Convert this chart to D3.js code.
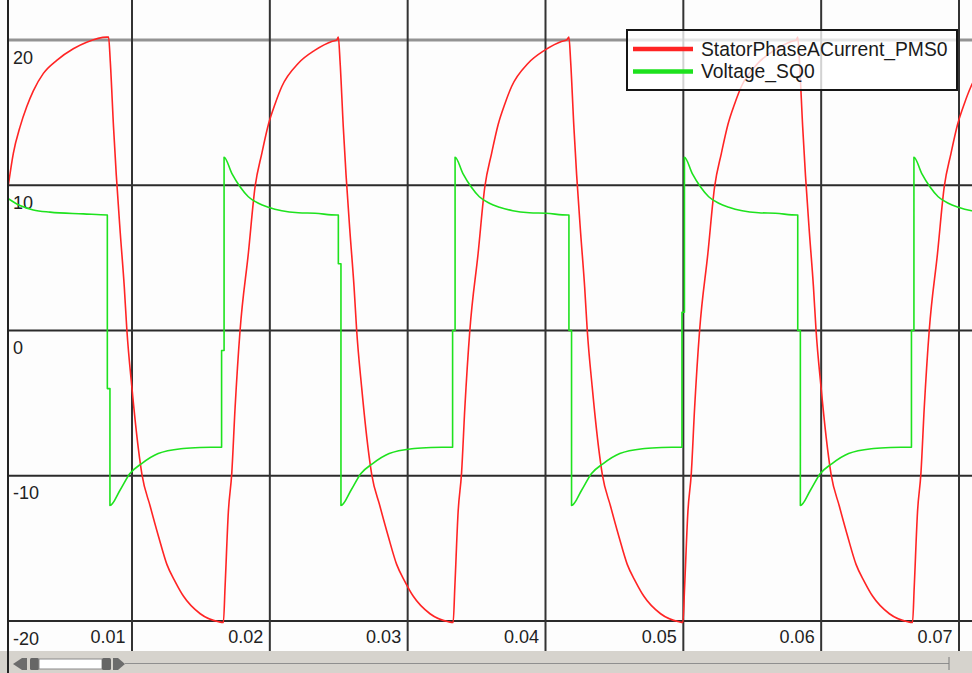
<!DOCTYPE html>
<html lang="en">
<head>
<meta charset="UTF-8">
<title>StatorPhaseACurrent_PMS0 / Voltage_SQ0</title>
<script src="https://d3js.org/d3.v7.min.js"></script>
<style>
  body { margin: 0; background: #fff; }
  svg { display: block; font-family: "Liberation Sans", Arial, sans-serif; }
  .tick-label { font-size: 18px; fill: #222; }
  .legend-label { font-size: 19.3px; fill: #1a1a1a; }
</style>
</head>
<body>
<script>
  // time in ms
  const timeTicks = [10, 20, 30, 40, 50, 60, 70];
  const timeTickLabels = ['0.01', '0.02', '0.03', '0.04', '0.05', '0.06', '0.07'];
  const valueTicks = [20, 10, 0, -10, -20];
  const valueTickLabels = ['20', '10', '0', '-10', '-20'];
  const seriesNames = ['StatorPhaseACurrent_PMS0', 'Voltage_SQ0'];
  const seriesColors = ['#ff2424', '#1ee21e'];

  const currentSeries = [
    [1.03, 10.0], [1.39, 12.2], [1.87, 14.0], [2.36, 15.4], [2.84, 16.5], [3.57, 17.7], [4.54, 18.6], [5.74, 19.4], [6.71, 19.85], [8.16, 20.2],
    [8.30, 20.2], [8.42, 18.6], [8.66, 14.0], [8.86, 10.7], [9.15, 6.7], [9.44, 3.0], [9.63, 0.0], [9.99, -3.9], [10.47, -8.2], [10.72, -9.9], [11.32, -12.1], [11.93, -14.2], [12.53, -16.1], [13.14, -17.3], [13.74, -18.3], [14.95, -19.5], [16.28, -20.05],
    [16.63, -20.1], [16.75, -17.7], [16.99, -12.5], [17.24, -9.8], [17.48, -5.3], [17.84, 0.0], [18.44, 5.3], [18.93, 9.9], [19.42, 12.2], [19.90, 14.2], [20.38, 15.6], [20.87, 16.8], [22.07, 18.4], [23.28, 19.3], [24.49, 19.9], [24.86, 20.0],
    [24.97, 20.2], [25.09, 18.6], [25.33, 14.0], [25.53, 10.7], [25.82, 6.7], [26.11, 3.0], [26.30, 0.0], [26.66, -3.9], [27.14, -8.2], [27.39, -9.9], [27.99, -12.1], [28.60, -14.2], [29.20, -16.1], [29.81, -17.3], [30.41, -18.3], [31.62, -19.5], [32.95, -20.05],
    [33.30, -20.1], [33.42, -17.7], [33.66, -12.5], [33.91, -9.8], [34.15, -5.3], [34.51, 0.0], [35.11, 5.3], [35.60, 9.9], [36.09, 12.2], [36.57, 14.2], [37.05, 15.6], [37.54, 16.8], [38.74, 18.4], [39.95, 19.3], [41.16, 19.9], [41.53, 20.0],
    [41.70, 20.2], [41.82, 18.6], [42.06, 14.0], [42.26, 10.7], [42.55, 6.7], [42.84, 3.0], [43.03, 0.0], [43.39, -3.9], [43.87, -8.2], [44.12, -9.9], [44.72, -12.1], [45.33, -14.2], [45.93, -16.1], [46.54, -17.3], [47.14, -18.3], [48.35, -19.5], [49.68, -20.05],
    [49.97, -20.1], [50.09, -17.7], [50.33, -12.5], [50.58, -9.8], [50.82, -5.3], [51.18, 0.0], [51.78, 5.3], [52.27, 9.9], [52.76, 12.2], [53.24, 14.2], [53.72, 15.6], [54.21, 16.8], [55.41, 18.4], [56.62, 19.3], [57.83, 19.9], [58.20, 20.0],
    [58.30, 20.2], [58.42, 18.6], [58.66, 14.0], [58.86, 10.7], [59.15, 6.7], [59.44, 3.0], [59.63, 0.0], [59.99, -3.9], [60.47, -8.2], [60.72, -9.9], [61.32, -12.1], [61.93, -14.2], [62.53, -16.1], [63.14, -17.3], [63.74, -18.3], [64.95, -19.5], [66.28, -20.05],
    [66.63, -20.1], [66.75, -17.7], [66.99, -12.5], [67.24, -9.8], [67.48, -5.3], [67.84, 0.0], [68.44, 5.3], [68.93, 9.9], [69.42, 12.2], [69.90, 14.2], [70.38, 15.6], [70.87, 16.8], [72.07, 18.4]
  ];

  const voltageSeries = [
    [1.03, 9.07], [1.87, 8.6], [2.84, 8.3], [4.05, 8.15], [6.47, 8.03], [8.21, 7.95],
    [8.21, -4.0], [8.40, -4.0], [8.40, -12.05],
    [9.13, -11.0], [9.85, -9.85], [10.70, -9.16], [11.90, -8.47], [13.72, -8.12], [14.93, -8.05], [16.50, -8.03],
    [16.50, -1.38], [16.68, -1.38], [16.68, 11.93],
    [17.24, 10.82], [17.84, 9.9], [18.44, 9.21], [19.17, 8.76], [19.90, 8.49], [20.87, 8.25], [22.07, 8.11], [23.28, 8.07], [24.85, 7.95],
    [24.97, 7.95], [24.97, 4.6], [25.16, 4.6], [25.16, -12.05],
    [25.89, -11.0], [26.61, -9.85], [27.46, -9.16], [28.66, -8.47], [30.48, -8.12], [31.69, -8.05], [33.26, -8.03],
    [33.26, 0.0], [33.44, 0.0], [33.44, 11.93],
    [34.00, 10.82], [34.60, 9.9], [35.20, 9.21], [35.93, 8.76], [36.66, 8.49], [37.63, 8.25], [38.83, 8.11], [40.04, 8.07], [41.61, 7.95],
    [41.70, 7.95], [41.70, 0.0], [41.89, 0.0], [41.89, -12.05],
    [42.62, -11.0], [43.34, -9.85], [44.19, -9.16], [45.39, -8.47], [47.21, -8.12], [48.42, -8.05], [49.90, -8.03],
    [49.90, 1.26], [50.08, 1.26], [50.08, 11.93],
    [50.64, 10.82], [51.24, 9.9], [51.84, 9.21], [52.57, 8.76], [53.30, 8.49], [54.27, 8.25], [55.47, 8.11], [56.68, 8.07], [58.25, 7.95],
    [58.30, 7.95], [58.30, 0.0], [58.49, 0.0], [58.49, -12.05],
    [59.22, -11.0], [59.94, -9.85], [60.79, -9.16], [61.99, -8.47], [63.81, -8.12], [65.02, -8.05], [66.55, -8.03],
    [66.55, 0.0], [66.73, 0.0], [66.73, 11.93],
    [67.29, 10.82], [67.89, 9.9], [68.49, 9.21], [69.22, 8.76], [69.95, 8.49], [70.92, 8.25], [72.12, 8.11]
  ];

  const svgWidth = 972;
  const svgHeight = 673;
  const plot = { left: 8, right: 972, top: 0, bottom: 651 };

  const svg = d3.select('body').append('svg')
    .attr('width', svgWidth)
    .attr('height', svgHeight);

  svg.append('rect')
    .attr('width', svgWidth)
    .attr('height', svgHeight)
    .attr('fill', '#fdfdfd');

  // scales: 10 ms = 137.8 px, 10 units = 145.25 px
  const xScale = d3.scaleLinear().domain([0, 70]).range([-5.83, 959]);
  const yScale = d3.scaleLinear().domain([-20, 20]).range([621, 40]);

  svg.append('clipPath').attr('id', 'plot-clip')
    .append('rect')
    .attr('x', plot.left)
    .attr('y', plot.top)
    .attr('width', plot.right - plot.left)
    .attr('height', plot.bottom - plot.top);

  // grid
  const grid = svg.append('g');
  grid.selectAll('.hgrid')
    .data(valueTicks)
    .enter().append('line')
    .attr('class', 'hgrid')
    .attr('x1', plot.left)
    .attr('x2', plot.right)
    .attr('y1', d => yScale(d))
    .attr('y2', d => yScale(d))
    .attr('stroke', d => d === 20 ? '#939393' : '#2b2b2b')
    .attr('stroke-width', d => d === 20 ? 3 : 2);

  grid.selectAll('.vgrid')
    .data(timeTicks)
    .enter().append('line')
    .attr('class', 'vgrid')
    .attr('x1', d => xScale(d))
    .attr('x2', d => xScale(d))
    .attr('y1', plot.top)
    .attr('y2', plot.bottom)
    .attr('stroke', '#333')
    .attr('stroke-width', 2);

  // tick labels
  svg.selectAll('.ylabel')
    .data(valueTicks)
    .enter().append('text')
    .attr('class', 'tick-label')
    .attr('x', 13)
    .attr('y', d => yScale(d) + 23.5)
    .text((d, i) => valueTickLabels[i]);

  svg.selectAll('.xlabel')
    .data(timeTicks)
    .enter().append('text')
    .attr('class', 'tick-label')
    .attr('x', d => xScale(d) - 6.5)
    .attr('y', 642.5)
    .attr('text-anchor', 'end')
    .text((d, i) => timeTickLabels[i]);

  // traces
  const line = d3.line()
    .x(d => xScale(d[0]))
    .y(d => yScale(d[1]))
    .curve(d3.curveMonotoneX);

  const traces = svg.append('g').attr('clip-path', 'url(#plot-clip)');
  [currentSeries, voltageSeries].forEach((series, i) => {
    traces.append('path')
      .datum(series)
      .attr('d', line)
      .attr('fill', 'none')
      .attr('stroke', seriesColors[i])
      .attr('stroke-width', 1.6)
      .attr('stroke-linejoin', 'round');
  });

  // scrollbar strip
  const bar = svg.append('g');
  bar.append('rect')
    .attr('x', 0).attr('y', 651)
    .attr('width', svgWidth).attr('height', svgHeight - 651)
    .attr('fill', '#d6d3cd');
  bar.append('line')
    .attr('x1', 125).attr('x2', 949)
    .attr('y1', 663.5).attr('y2', 663.5)
    .attr('stroke', '#8f8f8f');
  bar.append('line')
    .attr('x1', 949).attr('x2', 949)
    .attr('y1', 657).attr('y2', 670)
    .attr('stroke', '#7a7a7a');
  bar.append('path')
    .attr('d', 'M13,664 L22,658 L27,658 L27,670 L22,670 Z')
    .attr('fill', '#6c6c6c');
  bar.append('rect')
    .attr('x', 30).attr('y', 658).attr('width', 9).attr('height', 12)
    .attr('rx', 1.5)
    .attr('fill', '#666');
  bar.append('rect')
    .attr('x', 39).attr('y', 659).attr('width', 63).attr('height', 10)
    .attr('fill', '#fff')
    .attr('stroke', '#8a8a8a');
  bar.append('rect')
    .attr('x', 102).attr('y', 658).attr('width', 9).attr('height', 12)
    .attr('rx', 1.5)
    .attr('fill', '#666');
  bar.append('path')
    .attr('d', 'M113,658 L118,658 L125,664 L118,670 L113,670 Z')
    .attr('fill', '#6c6c6c');

  // left axis line
  svg.append('line')
    .attr('x1', plot.left).attr('x2', plot.left)
    .attr('y1', 0).attr('y2', svgHeight)
    .attr('stroke', '#222')
    .attr('stroke-width', 2);

  // legend
  const legend = svg.append('g').attr('transform', 'translate(627,30)');
  legend.append('rect')
    .attr('width', 330)
    .attr('height', 60)
    .attr('fill', '#fff')
    .attr('fill-opacity', 0.78)
    .attr('stroke', '#151515')
    .attr('stroke-width', 2);

  seriesNames.forEach((name, i) => {
    legend.append('line')
      .attr('x1', 6).attr('x2', 66)
      .attr('y1', 19 + i * 22.5).attr('y2', 19 + i * 22.5)
      .attr('stroke', seriesColors[i])
      .attr('stroke-width', 4.5);
    legend.append('text')
      .attr('class', 'legend-label')
      .attr('x', 74)
      .attr('y', 25.7 + i * 22.6)
      .text(name);
  });
</script>
</body>
</html>
